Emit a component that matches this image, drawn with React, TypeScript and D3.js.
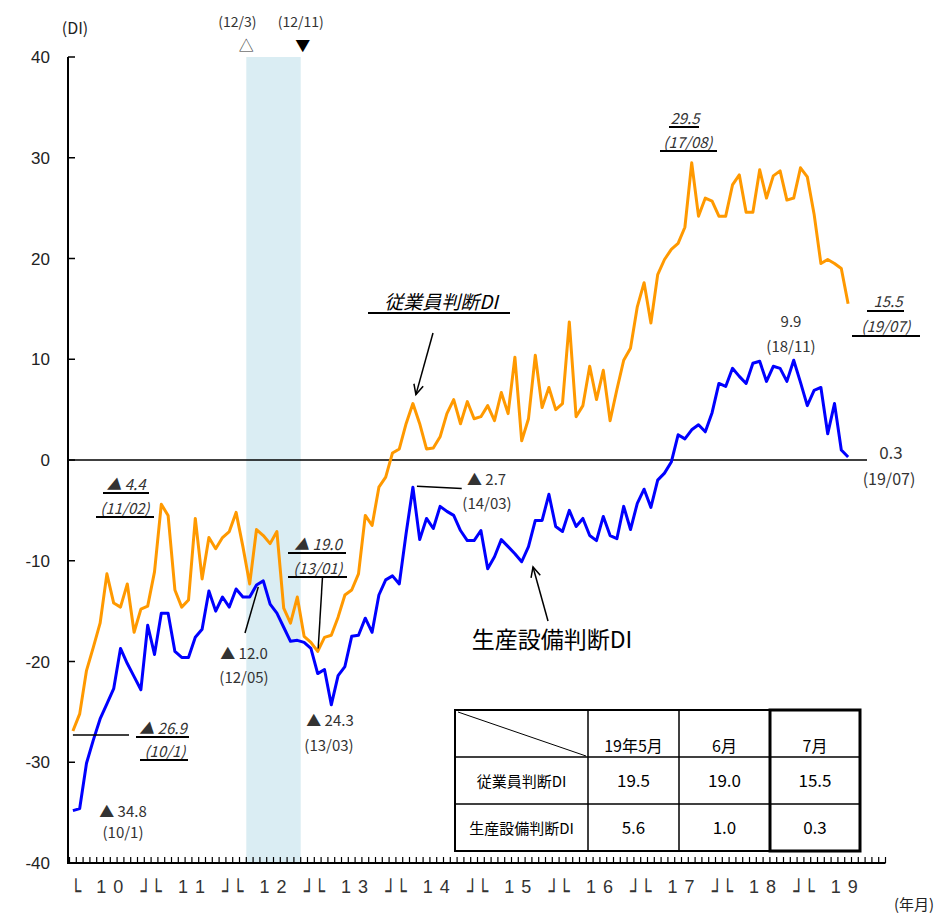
import React from 'react';
import * as d3 from 'd3';

// 従業員判断DI (monthly, 2010/01 - 2019/07)
const employeeDI = [
  -26.9, -25.2, -20.9, -18.6, -16.2, -11.3, -14.2, -14.6, -12.3, -17.1, -14.8, -14.5,
  -11.1, -4.4, -5.5, -12.9, -14.6, -13.9, -5.8, -11.8, -7.7, -8.8, -7.7, -7.1,
  -5.2, -8.6, -12.3, -6.9, -7.5, -8.3, -7.1, -14.7, -16.2, -13.6, -17.5, -18.1,
  -19.0, -17.6, -17.4, -15.6, -13.4, -12.9, -11.3, -5.5, -6.5, -2.7, -1.7, 0.7,
  1.1, 3.6, 5.6, 3.6, 1.1, 1.2, 2.3, 4.6, 6.0, 3.6, 5.8, 4.1,
  4.3, 5.4, 3.9, 6.7, 4.6, 10.2, 1.9, 4.1, 10.4, 5.2, 7.2, 5.0,
  5.6, 13.7, 4.3, 5.4, 9.3, 6.0, 8.9, 3.9, 7.0, 9.9, 11.1, 15.2,
  17.6, 13.6, 18.4, 19.9, 20.9, 21.5, 23.1, 29.5, 24.2, 26.0, 25.7, 24.2,
  24.2, 27.3, 28.3, 24.6, 24.6, 28.8, 26.0, 28.2, 28.7, 25.8, 26.0, 29.0,
  28.1, 24.4, 19.5, 19.9, 19.5, 19.0, 15.5,
];

// 生産設備判断DI
const equipmentDI = [
  -34.8, -34.6, -30.1, -27.8, -25.7, -24.2, -22.7, -18.7, -20.2, -21.5, -22.8, -16.4,
  -19.3, -15.2, -15.2, -19.0, -19.6, -19.6, -17.6, -16.8, -13.0, -15.0, -13.6, -14.6,
  -12.8, -13.6, -13.6, -12.4, -12.0, -14.3, -15.2, -16.6, -18.0, -17.9, -18.1, -18.7,
  -21.2, -20.8, -24.3, -21.4, -20.5, -17.5, -17.4, -15.7, -17.1, -13.4, -11.9, -11.5,
  -12.3, -7.3, -2.7, -7.9, -5.8, -6.8, -4.6, -5.1, -5.5, -7.0, -8.0, -8.0,
  -7.0, -10.8, -9.6, -7.9, -8.6, -9.3, -10.1, -8.6, -6.0, -6.0, -3.4, -6.6,
  -7.1, -5.0, -6.6, -5.8, -7.5, -8.0, -5.6, -7.5, -7.8, -4.6, -6.9, -4.3,
  -2.9, -4.7, -2.0, -1.3, -0.2, 2.5, 2.1, 3.0, 3.5, 2.8, 4.7, 7.6,
  7.3, 9.1, 8.3, 7.6, 9.6, 9.8, 7.8, 9.3, 9.1, 7.8, 9.9, 7.7,
  5.4, 6.9, 7.2, 2.6, 5.6, 1.0, 0.3,
];

const yTicks = [40, 30, 20, 10, 0, -10, -20, -30, -40];
const yearLabels = ['1 0', '1 1', '1 2', '1 3', '1 4', '1 5', '1 6', '1 7', '1 8', '1 9'];
const totalMonths = 120;
const recessionStart = 26; // 2012/03
const recessionEnd = 34; // 2012/11

const tableHeaders = ['19年5月', '6月', '7月'];
const tableRowNames = ['従業員判断DI', '生産設備判断DI'];
const tableEmployee = ['19.5', '19.0', '15.5'];
const tableEquipment = ['5.6', '1.0', '0.3'];

const JP = '"Noto Sans CJK JP", "Noto Sans", sans-serif';
const SANS = '"Liberation Sans", Arial, sans-serif';
const BOX = '"DejaVu Sans", sans-serif';

function Note({ x, y, text, italic = false, anchor = 'middle', size = 15, u, color = '#333', family = JP }: any) {
  return (
    <g>
      <text x={x} y={y} fontSize={size} fontFamily={family} fontStyle={italic ? 'italic' : 'normal'} textAnchor={anchor} fill={color}>
        {text}
      </text>
      {u && <line x1={u[0]} x2={u[1]} y1={u[2]} y2={u[2]} stroke="#000" strokeWidth={2} />}
    </g>
  );
}

function Arrow({ x1, y1, x2, y2 }: any) {
  const ang = Math.atan2(y2 - y1, x2 - x1);
  const L = 11;
  const a1 = ang + Math.PI - 0.45;
  const a2 = ang + Math.PI + 0.45;
  return (
    <g stroke="#000" strokeWidth={1.5} fill="none">
      <line x1={x1} y1={y1} x2={x2} y2={y2} />
      <polyline points={`${x2 + L * Math.cos(a1)},${y2 + L * Math.sin(a1)} ${x2},${y2} ${x2 + L * Math.cos(a2)},${y2 + L * Math.sin(a2)}`} />
    </g>
  );
}

export default function App() {
  const W = 946;
  const H = 915;
  const x = d3.scaleLinear().domain([0, totalMonths]).range([69.5, 885.5]);
  const y = d3.scaleLinear().domain([-40, 40]).range([863, 57]);
  const px = (i: number) => x(i + 0.5);
  const line = d3
    .line<number>()
    .x((_, i) => px(i))
    .y((d) => y(d));

  const axisX = 68;
  const monthTicks = d3.range(0, totalMonths + 1);
  const boxY = 899;

  const colX = [455, 588, 679, 770, 860];
  const rowY = [710, 757, 804, 851];

  return (
    <svg width={W} height={H} style={{ position: 'absolute', left: 0, top: 0, background: '#fff' }}>
      <rect x={0} y={0} width={W} height={H} fill="#fff" />
      {/* recession band */}
      <rect x={x(recessionStart)} y={y(40)} width={x(recessionEnd) - x(recessionStart)} height={y(-40) - y(40)} fill="#daedf3" />
      <text x={x(recessionStart) - 9} y={27} fontSize={14} fontFamily={JP} textAnchor="middle" fill="#333">(12/3)</text>
      <text x={x(recessionStart)} y={51} fontSize={15} fontFamily={JP} textAnchor="middle" fill="#333">△</text>
      <text x={x(recessionEnd)} y={27} fontSize={14} fontFamily={JP} textAnchor="middle" fill="#333">(12/11)</text>
      <text x={x(recessionEnd) + 2} y={51} fontSize={15} fontFamily={JP} textAnchor="middle" fill="#000">▼</text>

      {/* y axis */}
      <line x1={axisX} x2={axisX} y1={y(40)} y2={y(-40) + 1} stroke="#000" strokeWidth={2} />
      {yTicks.map((t) => (
        <g key={t}>
          <line x1={axisX} x2={axisX + 7} y1={y(t)} y2={y(t)} stroke="#000" strokeWidth={1.5} />
          <text x={50} y={y(t) + 6} fontSize={17} fontFamily={SANS} textAnchor="end" fill="#222">{t}</text>
        </g>
      ))}
      <text x={75} y={34} fontSize={16} fontFamily={JP} textAnchor="middle" fill="#222">(DI)</text>

      {/* x axis */}
      <line x1={axisX} x2={x(totalMonths)} y1={y(-40)} y2={y(-40)} stroke="#000" strokeWidth={2} />
      {monthTicks.map((m) => (
        <line key={m} x1={x(m)} x2={x(m)} y1={y(-40)} y2={y(-40) - 6} stroke="#000" strokeWidth={1.2} />
      ))}
      <text x={x(0) + 1} y={boxY} fontSize={22} fontFamily={BOX} fill="#333" transform={`translate(${x(0) + 1},0) scale(0.8,1) translate(${-(x(0) + 1)},0)`}>└</text>
      {yearLabels.map((lab, k) => (
        <g key={lab}>
          <text x={x(k * 12 + 6)} y={893} fontSize={18} fontFamily={SANS} textAnchor="middle" fill="#333" letterSpacing={1}>{lab}</text>
          {k > 0 && (
            <text x={x(k * 12)} y={boxY} fontSize={22} fontFamily={BOX} textAnchor="middle" fill="#333" transform={`translate(${x(k * 12)},0) scale(0.8,1) translate(${-x(k * 12)},0)`}>┘└</text>
          )}
        </g>
      ))}
      <text x={914} y={910} fontSize={15} fontFamily={JP} textAnchor="middle" fill="#222">(年月)</text>

      {/* zero line */}
      <line x1={axisX} x2={867} y1={y(0)} y2={y(0)} stroke="#000" strokeWidth={1.5} />

      {/* series */}
      <path d={line(employeeDI) || ''} fill="none" stroke="#ff9900" strokeWidth={3} strokeLinejoin="round" />
      <path d={line(equipmentDI) || ''} fill="none" stroke="#0000ff" strokeWidth={3} strokeLinejoin="round" />

      {/* annotations: employee */}
      <Note x={126} y={490} text="▲ 4.4" italic u={[103, 149, 493]} />
      <Note x={125} y={514} text="(11/02)" italic u={[96, 154, 517]} />
      <line x1={px(0)} x2={129} y1={735} y2={735} stroke="#000" strokeWidth={1.5} />
      <Note x={163} y={734} text="▲ 26.9" italic u={[136, 189, 737]} />
      <Note x={165} y={757} text="(10/1)" italic u={[140, 188, 760]} />
      <Note x={318} y={550} text="▲ 19.0" italic u={[288, 346, 553]} />
      <Note x={318} y={574} text="(13/01)" italic u={[288, 347, 577]} />
      <line x1={322.5} y1={577} x2={px(36) + 0.5} y2={y(-19.0) - 3} stroke="#000" strokeWidth={1.5} />
      <Note x={685} y={124} text="29.5" italic u={[669, 699, 127]} />
      <Note x={688} y={148} text="(17/08)" italic u={[660, 717, 151]} />
      <Note x={888} y={307} text="15.5" italic u={[867, 904, 311]} />
      <Note x={886} y={332} text="(19/07)" italic u={[852, 920, 336]} />
      <Note x={441} y={309} text="従業員判断DI" italic size={19} color="#000" u={[368, 510, 313]} />
      <Arrow x1={433} y1={333} x2={px(50) + 3} y2={y(5.6) - 9} />

      {/* annotations: equipment */}
      <Note x={123} y={817} text="▲ 34.8" />
      <Note x={123} y={838} text="(10/1)" />
      <Note x={244} y={659} text="▲ 12.0" />
      <Note x={244} y={683} text="(12/05)" />
      <line x1={px(28) - 5} y1={y(-12.0) + 6} x2={245} y2={633} stroke="#000" strokeWidth={1.5} />
      <Note x={330} y={726} text="▲ 24.3" />
      <Note x={329} y={751} text="(13/03)" />
      <Note x={467} y={485} text="▲ 2.7" anchor="start" />
      <Note x={487} y={509} text="(14/03)" />
      <line x1={px(50) + 4} y1={y(-2.7) - 1} x2={461.7} y2={488.5} stroke="#000" strokeWidth={1.5} />
      <Note x={791} y={327} text="9.9" />
      <Note x={791} y={352} text="(18/11)" />
      <Note x={891} y={459} text="0.3" size={17} />
      <Note x={889} y={485} text="(19/07)" size={16} />
      <text x={552} y={648} fontSize={23} fontFamily={JP} textAnchor="middle" fill="#000">生産設備判断DI</text>
      <Arrow x1={548} y1={621} x2={533} y2={567} />

      {/* table */}
      <rect x={colX[0]} y={rowY[0]} width={colX[4] - colX[0]} height={rowY[3] - rowY[0]} fill="#fff" stroke="#000" strokeWidth={2} />
      {colX.slice(1, 4).map((cx) => (
        <line key={cx} x1={cx} x2={cx} y1={rowY[0]} y2={rowY[3]} stroke="#000" strokeWidth={1.5} />
      ))}
      {rowY.slice(1, 3).map((ry) => (
        <line key={ry} x1={colX[0]} x2={colX[4]} y1={ry} y2={ry} stroke="#000" strokeWidth={1.5} />
      ))}
      <rect x={colX[3]} y={rowY[0]} width={colX[4] - colX[3]} height={rowY[3] - rowY[0]} fill="none" stroke="#000" strokeWidth={3} />
      <line x1={colX[0] + 3} y1={rowY[0] + 2} x2={colX[1] - 2} y2={rowY[1] - 1} stroke="#000" strokeWidth={1} />
      {tableHeaders.map((h, j) => (
        <text key={h} x={(colX[j + 1] + colX[j + 2]) / 2} y={752} fontSize={16} fontFamily={JP} textAnchor="middle" fill="#000">{h}</text>
      ))}
      {tableRowNames.map((r, k) => (
        <text key={r} x={(colX[0] + colX[1]) / 2} y={(rowY[k + 1] + rowY[k + 2]) / 2 + 6} fontSize={15} fontFamily={JP} textAnchor="middle" fill="#000">{r}</text>
      ))}
      {[tableEmployee, tableEquipment].map((vals, k) =>
        vals.map((v, j) => (
          <text key={`${k}-${j}`} x={(colX[j + 1] + colX[j + 2]) / 2} y={(rowY[k + 1] + rowY[k + 2]) / 2 + 6} fontSize={17} fontFamily={JP} textAnchor="middle" fill="#000">{v}</text>
        ))
      )}
    </svg>
  );
}
